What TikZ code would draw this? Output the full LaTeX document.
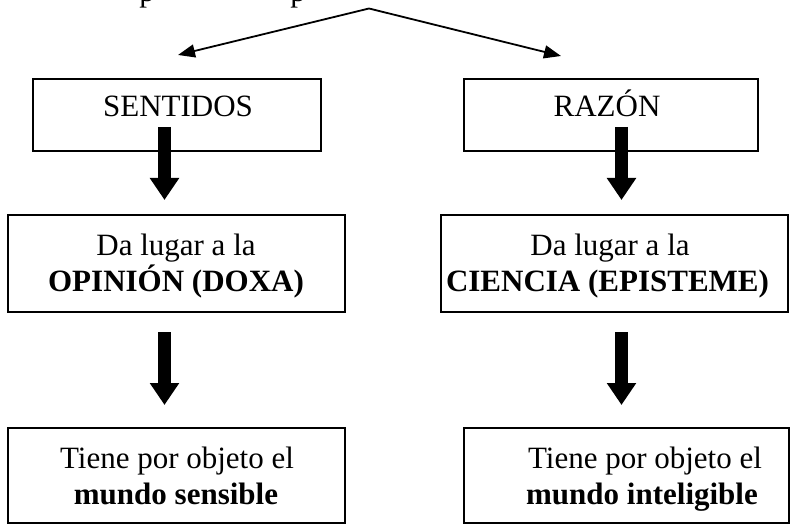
\documentclass[tikz,border=0pt]{standalone}
\usepackage{fontspec}
\setmainfont{Liberation Serif}
\usetikzlibrary{arrows.meta}
\tikzset{
  box/.style={draw, line width=1.5bp, inner sep=0pt, outer sep=0pt},
  txt/.style={anchor=base, inner sep=0pt, font=\fontsize{31bp}{36bp}\selectfont},
  btxt/.style={txt, font=\fontsize{31bp}{36bp}\selectfont\bfseries},
  bigarrow/.style={line width=13bp, line cap=butt, -{Triangle[width=28bp,length=22bp]}},
  thinarrow/.style={line width=1.8bp, -{Triangle[width=13bp,length=17bp]}}
}
\begin{document}
\begin{tikzpicture}[x=1bp,y=-1bp]
\useasboundingbox (0,0) rectangle (790,524);
% cut-off text above the picture
\node[txt] (p1) at (147,1.5) {p};
\node[txt] (p2) at (298,1.5) {p};
% boxes
\node[box, minimum width=288bp, minimum height=72bp] (b1) at (177,115) {};
\node[box, minimum width=294bp, minimum height=72bp] (b2) at (611,115) {};
\node[box, minimum width=337bp, minimum height=97bp] (b3) at (176.5,263.5) {};
\node[box, minimum width=347bp, minimum height=97bp] (b4) at (614.5,263.5) {};
\node[box, minimum width=337bp, minimum height=95bp] (b5) at (176.5,475.5) {};
\node[box, minimum width=325bp, minimum height=95bp] (b6) at (626.5,475.5) {};
% texts
\node[txt] (t1) at (178,117) {SENTIDOS};
\node[txt] (t2) at (607,117) {RAZÓN};
\node[txt] (t3a) at (176,256) {Da lugar a la};
\node[btxt] (t3b) at (176,292) {OPINIÓN (DOXA)};
\node[txt] (t4a) at (610,256) {Da lugar a la};
\node[btxt] (t4b) at (607.5,292) {CIENCIA (EPISTEME)};
\node[txt] (t5a) at (177,468) {Tiene por objeto el};
\node[btxt] (t5b) at (176,504) {mundo sensible};
\node[txt] (t6a) at (645,468) {Tiene por objeto el};
\node[btxt] (t6b) at (642,504) {mundo inteligible};
% top split arrows
\coordinate (apex) at (369,8.5);
\coordinate (lt) at (178,55);
\coordinate (rt) at (561,56);
\draw[thinarrow] (apex) -- (lt);
\draw[thinarrow] (apex) -- (rt);
% thick arrows
\coordinate (a1s) at (164.5,127);
\coordinate (a1e) at (164.5,200);
\coordinate (a2s) at (164.5,332);
\coordinate (a2e) at (164.5,405);
\coordinate (a3s) at (621.5,127);
\coordinate (a3e) at (621.5,200);
\coordinate (a4s) at (621.5,332);
\coordinate (a4e) at (621.5,405);
\draw[bigarrow] (a1s) -- (a1e);
\draw[bigarrow] (a2s) -- (a2e);
\draw[bigarrow] (a3s) -- (a3e);
\draw[bigarrow] (a4s) -- (a4e);
\end{tikzpicture}
\end{document}
